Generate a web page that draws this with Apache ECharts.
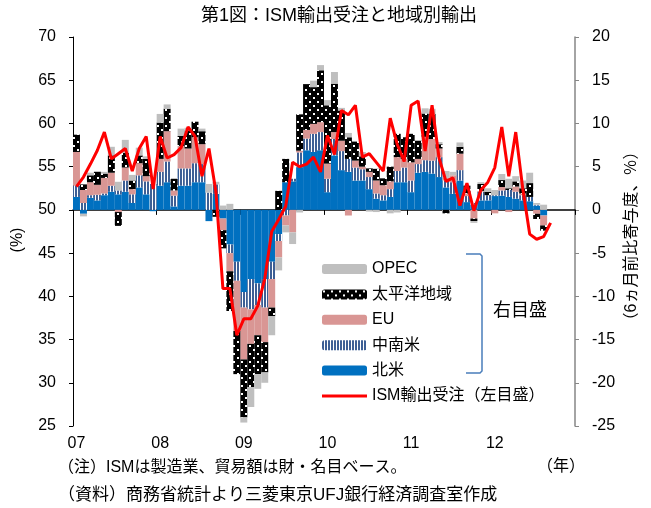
<!DOCTYPE html>
<html>
<head>
<meta charset="utf-8">
<script src="https://cdn.jsdelivr.net/npm/echarts@6/dist/echarts.min.js"></script>
<style>
html,body{margin:0;padding:0;background:#fff;}
#chart{width:651px;height:508px;}
</style>
</head>
<body>
<div id="chart"></div>
<script>
// ---- data ----
const categories = [
 '2007/01','2007/02','2007/03','2007/04','2007/05','2007/06','2007/07','2007/08','2007/09','2007/10','2007/11','2007/12',
 '2008/01','2008/02','2008/03','2008/04','2008/05','2008/06','2008/07','2008/08','2008/09','2008/10','2008/11','2008/12',
 '2009/01','2009/02','2009/03','2009/04','2009/05','2009/06','2009/07','2009/08','2009/09','2009/10','2009/11','2009/12',
 '2010/01','2010/02','2010/03','2010/04','2010/05','2010/06','2010/07','2010/08','2010/09','2010/10','2010/11','2010/12',
 '2011/01','2011/02','2011/03','2011/04','2011/05','2011/06','2011/07','2011/08','2011/09','2011/10','2011/11','2011/12',
 '2012/01','2012/02','2012/03','2012/04','2012/05','2012/06','2012/07','2012/08','2012/09','2012/10','2012/11','2012/12'
];
const yearLabels = ['07','08','09','10','11','12'];
const leftTicks = [25,30,35,40,45,50,55,60,65,70];
const rightTicks = [-25,-20,-15,-10,-5,0,5,10,15,20];

const northAmerica = [
 1.5,-0.45,1.4,1.1,1.7,2.1,1.8,2.1,0.8,2.6,1.8,-0.15,
 2.8,3.2,0.4,2.8,2.8,3.2,3.2,-1.3,1.85,-1.0,-4.0,-6.0,
 -9.5,-8.0,-8.5,-8.0,-6.0,-2.8,3.2,3.3,4.95,6.9,6.7,6.9,
 2.05,6.3,4.6,4.4,3.4,3.4,2.4,1.3,1.1,1.5,3.2,3.2,
 2.05,4.3,4.4,4.2,3.8,2.6,1.85,3.4,0.9,0.6,1.1,1.1,
 1.6,1.65,1.5,1.3,1.1,1.0,0.5,-0.65
];
const latinAmerica = [
 1.3,0.8,0.3,0.65,0.2,0.7,0.45,1.3,1.0,1.4,1.5,3.0,
 1.6,2.4,1.25,2.0,2.0,2.2,2.1,2.0,1.1,0,-1.0,-2.2,
 -1.8,-3.5,-2.5,-3.3,-2.0,-0.8,-0.65,0.3,1.7,1.35,2.1,2.1,
 1.55,1.9,2.2,1.5,1.5,1.3,1.4,0.6,0.6,0.9,1.3,1.7,
 1.35,1.0,1.35,1.5,2.3,0.8,1.35,1.2,0.7,0.2,1.0,0.6,
 0.1,0.6,0.8,0.8,0.6,0.5,0.1,0
];
const eu = [
 3.9,1.5,1.5,1.15,1.8,1.5,-0.25,1.5,0.6,1.4,0.6,0,
 1.5,3.5,0.6,2.6,2.3,3.0,2.3,0,0,-1.35,-2.1,-5.8,
 -6.0,-4.0,-3.5,-4.0,-3.3,-1.9,-1.15,-2.6,0.2,1.0,1.15,1.15,
 1.75,0.8,1.2,-0.65,0.8,0.3,0.6,1.5,1.15,0.9,1.6,1.0,
 2.1,0.6,2.7,2.5,1.0,0.3,0.8,1.9,0.3,-1.0,0.1,0,
 -0.4,0.4,-0.25,0.6,0.2,0,-0.45,-1.15
];
const pacific = [
 2.0,0.65,0.8,1.5,0.5,2.0,-1.6,1.7,1.0,0.9,2.0,0,
 4.2,2.6,1.35,1.15,2.1,1.8,1.5,0,-0.8,-2.1,-4.6,-5.0,
 -6.7,-5.0,-4.5,-3.5,-1.0,2.2,2.7,0,4.2,5.3,4.25,6.0,
 6.75,5.6,3.5,2.5,2.2,1.2,0.4,1.35,0.8,1.7,2.7,2.5,
 3.3,2.1,2.7,2.9,0.5,-0.4,0,0.8,0.9,-0.3,0.8,0.4,
 0,0.8,0.2,0.6,0.6,1.6,-0.6,-0.6
];
const opec = [
 0,-0.3,0.3,0.1,0.2,1.0,1.0,1.5,0.65,0.9,0.3,0,
 1.0,0.5,0,0.85,0.3,0,0.3,1.0,0.3,0.5,0.7,0,
 -0.6,-2.3,-1.7,-1.2,-2.2,-1.5,-0.8,-1.35,-0.3,0,0.75,0.6,
 0.6,1.35,0.3,0.5,0,0.5,-0.2,-0.25,0,-0.4,-0.3,0,
 0,0,0.6,0.6,0.25,0.8,0.4,0.5,0,-0.2,0.2,0.4,
 0.6,0.7,1.1,0.6,0.9,1.2,0.2,0.6
];
const ismExportOrders = [
 52.7,53.8,55.3,56.9,59.0,55.9,56.5,57.1,54.5,57.1,58.5,52.4,
 58.5,56.0,56.4,57.2,59.6,58.5,53.9,57.1,52.1,40.9,40.9,35.5,
 37.4,37.4,38.9,42.0,47.5,48.9,50.4,55.5,55.0,55.3,56.1,54.4,
 58.6,56.4,61.5,61.0,62.1,56.1,56.5,55.5,54.5,60.6,57.6,55.6,
 62.1,62.6,56.8,62.1,56.0,53.3,53.7,50.5,53.1,49.9,52.3,53.2,
 54.9,59.6,53.9,59.0,52.5,47.2,46.6,46.9,48.5
];

// ---- patterns ----
function dotPattern(){
  const c=document.createElement('canvas'); c.width=8; c.height=8;
  const g=c.getContext('2d');
  g.fillStyle='#000'; g.fillRect(0,0,8,8);
  g.fillStyle='#ffffff'; g.fillRect(1,1,2,2); g.fillRect(5,5,2,2);
  return c;
}
function stripePattern(){
  const c=document.createElement('canvas'); c.width=3; c.height=4;
  const g=c.getContext('2d');
  g.fillStyle='#fff'; g.fillRect(0,0,3,4);
  g.fillStyle='#3d5f95'; g.fillRect(0,0,2,4);
  return c;
}
const dotFill = {image: dotPattern(), repeat: 'repeat'};
const stripeFill = {image: stripePattern(), repeat: 'repeat'};

const FONT = '"Liberation Sans","Noto Sans CJK JP",sans-serif';
const chart = echarts.init(document.getElementById('chart'), null, {renderer:'canvas'});

function barSeries(name, data, color){
  return {
    name: name, type:'bar', data: data, stack:'total', xAxisIndex:0, yAxisIndex:1,
    barCategoryGap:'0%', itemStyle:{color: color}, emphasis:{disabled:true}
  };
}

const lineIcon = 'path://M0 0 L0.01 0 L0 0.01 Z M0 3.5 L45 3.5 L45 6.5 L0 6.5 Z M44.99 10 L45 10 L45 9.99 Z';

const option = {
  animation:false,
  backgroundColor:'#fff',
  textStyle:{fontFamily:FONT, color:'#000'},
  grid:{left:73, right:76, top:37, bottom:82, containLabel:false},
  legend:{
    orient:'vertical', left:322, top:261, itemWidth:45, itemHeight:10, itemGap:9.4,
    padding:0, selectedMode:false,
    textStyle:{fontSize:16, lineHeight:16, color:'#000', fontFamily:FONT},
    data:['OPEC','太平洋地域','EU','中南米','北米',
      {name:'ISM輸出受注（左目盛）', icon: lineIcon, itemStyle:{color:'#ff0000'}}]
  },
  xAxis:[
    {type:'category', data:categories, position:'top', boundaryGap:true,
     axisLine:{show:true, onZero:true, onZeroAxisIndex:1, lineStyle:{color:'#000', width:1.5}},
     axisTick:{show:true, inside:true, interval:11, length:5, lineStyle:{color:'#000'}},
     axisLabel:{show:false}, splitLine:{show:false}},
    {type:'category', data:categories, position:'bottom', boundaryGap:true,
     axisLine:{show:false}, axisTick:{show:false}, splitLine:{show:false},
     axisLabel:{show:true, interval:11, margin:10, fontSize:16, color:'#000',
       formatter:function(v, i){ return yearLabels[Math.floor(i/12)] || ''; }}}
  ],
  yAxis:[
    {type:'value', min:leftTicks[0], max:leftTicks[leftTicks.length-1], interval:5, position:'left',
     axisLine:{show:true, lineStyle:{color:'#000', width:1}},
     axisTick:{show:true, length:4, lineStyle:{color:'#000'}},
     axisLabel:{fontSize:16, color:'#000', margin:17}, splitLine:{show:false}},
    {type:'value', min:rightTicks[0], max:rightTicks[rightTicks.length-1], interval:5, position:'right',
     axisLine:{show:true, lineStyle:{color:'#868686', width:1.5}},
     axisTick:{show:true, length:4, lineStyle:{color:'#868686'}},
     axisLabel:{fontSize:16, color:'#000', margin:17}, splitLine:{show:false}}
  ],
  series:[
    barSeries('北米', northAmerica, '#0070c0'),
    barSeries('中南米', latinAmerica, stripeFill),
    barSeries('EU', eu, '#d99694'),
    barSeries('太平洋地域', pacific, dotFill),
    barSeries('OPEC', opec, '#bfbfbf'),
    {name:'ISM輸出受注（左目盛）', type:'line', data:ismExportOrders, xAxisIndex:0, yAxisIndex:0,
     symbol:'none', z:5, lineStyle:{color:'#ff0000', width:3}, itemStyle:{color:'#ff0000'},
     emphasis:{disabled:true}}
  ],
  graphic:[
    {type:'text', x:339, y:16, style:{text:'第1図：ISM輸出受注と地域別輸出', fill:'#000',
      font:'18px '+FONT, textAlign:'center', textVerticalAlign:'middle', align:'center', verticalAlign:'middle'}},
    {type:'text', x:18, y:240, rotation:Math.PI/2, style:{text:'(%)', fill:'#000',
      font:'16px '+FONT, textAlign:'center', textVerticalAlign:'middle', align:'center', verticalAlign:'middle'}},
    {type:'text', x:632, y:236, rotation:Math.PI/2, style:{text:'（6ヵ月前比寄与度、％）', fill:'#000',
      font:'16px '+FONT, textAlign:'center', textVerticalAlign:'middle', align:'center', verticalAlign:'middle'}},
    {type:'polyline', shape:{points:[[466,254],[480,254],[482,256],[482,371],[480,373],[466,373]]},
      style:{fill:null, stroke:'#4a7ebb', lineWidth:1.5}},
    {type:'text', x:493, y:311, style:{text:'右目盛', fill:'#000',
      font:'18px '+FONT, textAlign:'left', textVerticalAlign:'middle', align:'left', verticalAlign:'middle'}},
    {type:'text', x:58, y:468, style:{text:'（注）ISMは製造業、貿易額は財・名目ベース。', fill:'#000',
      font:'16px '+FONT, textAlign:'left', textVerticalAlign:'middle', align:'left', verticalAlign:'middle'}},
    {type:'text', x:58, y:495, style:{text:'（資料）商務省統計より三菱東京UFJ銀行経済調査室作成', fill:'#000',
      font:'17px '+FONT, textAlign:'left', textVerticalAlign:'middle', align:'left', verticalAlign:'middle'}},
    {type:'text', x:537, y:467, style:{text:'（年）', fill:'#000',
      font:'16px '+FONT, textAlign:'left', textVerticalAlign:'middle', align:'left', verticalAlign:'middle'}}
  ]
};
chart.setOption(option);
</script>
</body>
</html>
